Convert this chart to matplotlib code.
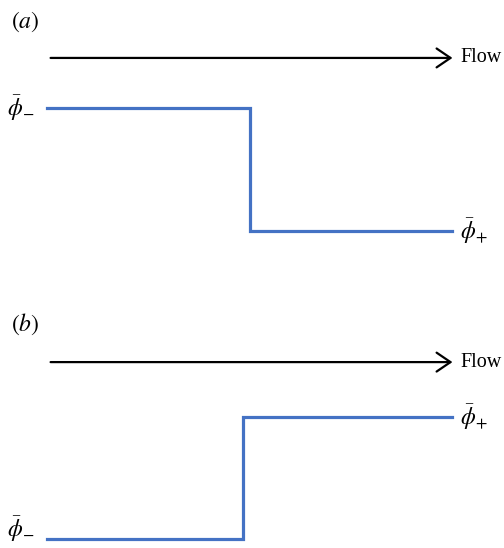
import matplotlib.pyplot as plt
from matplotlib.patches import FancyArrowPatch

plt.rcParams['font.family'] = ['Liberation Serif', 'DejaVu Serif']
plt.rcParams['mathtext.fontset'] = 'stix'

# step profiles along the flow direction (normalised x, normalised level)
panel_tags = ['a', 'b']
step_x_a = [0.0, 0.501, 1.0]
step_y_a = [1.0, 0.0, 0.0]
step_x_b = [0.0, 0.484, 1.0]
step_y_b = [0.0, 1.0, 1.0]
phi_minus = r'$\bar{\phi}_{-}$'
phi_plus = r'$\bar{\phi}_{+}$'
flow_label = 'Flow'

blue = '#4472C4'

fig = plt.figure(figsize=(5.04, 5.48), dpi=100)
W, H = 504, 548

def make_axes(x0, x1, y_lo, y_hi):
    # pixel box (top-origin) -> figure fraction
    return fig.add_axes([x0 / W, (H - y_lo) / H, (x1 - x0) / W, (y_lo - y_hi) / H])

def draw_panel(ax, tag, xs, ys, arrow_y, tag_y, minus_dy):
    ax.set_xlim(0, 1)
    ax.set_ylim(0, 1)
    ax.axis('off')
    ax.step(xs, ys, where='post', color=blue, lw=2.3, clip_on=False,
            solid_joinstyle='miter')
    arr = FancyArrowPatch((0.002, arrow_y), (1.008, arrow_y),
                          arrowstyle='->,head_length=10,head_width=6.8',
                          mutation_scale=1, lw=1.6, color='black',
                          transform=ax.transData, clip_on=False)
    ax.add_patch(arr)
    ax.text(1.02, arrow_y, flow_label, fontsize=14.5, ha='left', va='center')
    ax.text(-0.088, tag_y, r'$(%s)$' % tag, fontsize=17,
            ha='left', va='center')
    # upstream level sits at the start of the step, downstream at the end
    up, down = ys[0], ys[-1]
    ax.text(-0.032, up + minus_dy, phi_minus, fontsize=17,
            ha='right', va='center')
    ax.text(1.02, down, phi_plus, fontsize=17, ha='left', va='center')

ax_a = make_axes(47, 452, 231, 108)
draw_panel(ax_a, panel_tags[0], step_x_a, step_y_a, 1.407, 1.70, 0.0)

ax_b = make_axes(47, 452, 539, 417)
draw_panel(ax_b, panel_tags[1], step_x_b, step_y_b, 1.45, 1.76, 0.08)

fig.savefig('out.png', dpi=100)
